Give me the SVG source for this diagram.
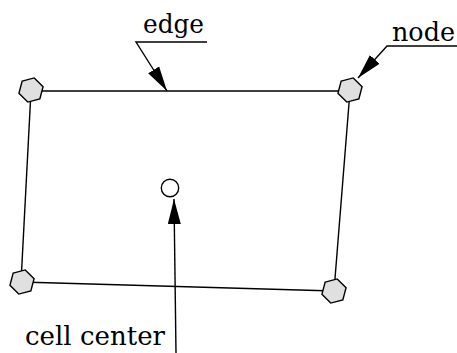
<svg xmlns="http://www.w3.org/2000/svg" xmlns:xlink="http://www.w3.org/1999/xlink" width="457" height="353" viewBox="0 0 457 353">
  <style>
    .lbl { font-family: "DejaVu Serif", "Liberation Serif", serif; font-size: 26px; fill: #000; }
    .edge { stroke: #000; stroke-width: 1.4; fill: none; }
    .lead { stroke: #000; stroke-width: 1.4; fill: none; }
    .hex { fill: #e0e0e0; stroke: #000; stroke-width: 1.4; }
  </style>
  <defs>
    <marker id="arr" viewBox="0 -7 26 14" refX="25" refY="0" markerWidth="26" markerHeight="14" markerUnits="userSpaceOnUse" orient="auto">
      <path d="M0,-6.5 L25,0 L0,6.5 z" fill="#000"/>
    </marker>
    <polygon id="hexshape" points="-8.84,-8.84 3.24,-12.07 12.07,-3.24 8.84,8.84 -3.24,12.07 -12.07,3.24"/>
  </defs>
  <rect width="457" height="353" fill="#fff"/>
  <g id="cell-edges">
    <line class="edge" x1="31" y1="91" x2="350" y2="91"/>
    <line class="edge" x1="350" y1="91" x2="334" y2="291"/>
    <line class="edge" x1="334" y1="291" x2="21" y2="282"/>
    <line class="edge" x1="21" y1="282" x2="31" y2="91"/>
  </g>
  <g id="node-tl"><use xlink:href="#hexshape" class="hex" x="31" y="90"/></g>
  <g id="node-tr"><use xlink:href="#hexshape" class="hex" x="350" y="90"/></g>
  <g id="node-bl"><use xlink:href="#hexshape" class="hex" x="22" y="282"/></g>
  <g id="node-br"><use xlink:href="#hexshape" class="hex" x="334" y="291"/></g>
  <g id="cell-center"><circle cx="170" cy="188" r="8.7" fill="#fff" stroke="#000" stroke-width="1.4"/></g>
  <g id="label-edge">
    <text class="lbl" x="143" y="33" textLength="61" lengthAdjust="spacingAndGlyphs">edge</text>
  </g>
  <g id="label-node">
    <text class="lbl" x="392" y="41" textLength="63" lengthAdjust="spacingAndGlyphs">node</text>
  </g>
  <g id="label-cell-center">
    <text class="lbl" x="25" y="345" textLength="140" lengthAdjust="spacingAndGlyphs">cell center</text>
  </g>
  <g id="connectors">
    <polyline class="lead" points="207,42 136,42 167,91" marker-end="url(#arr)"/>
    <polyline class="lead" points="457,46 387,46 358,78" marker-end="url(#arr)"/>
    <line class="lead" x1="176" y1="353" x2="174" y2="199" marker-end="url(#arr)"/>
  </g>
</svg>
